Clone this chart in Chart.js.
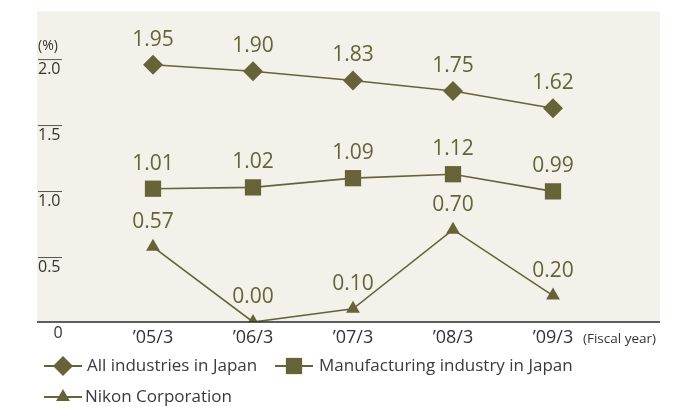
<!DOCTYPE html>
<html>
<head>
<meta charset="utf-8">
<script src="https://cdn.jsdelivr.net/npm/chart.js@4/dist/chart.umd.min.js"></script>
<style>
  body { margin: 0; background: #ffffff; }
  #wrap { width: 683px; height: 407px; }
</style>
</head>
<body>
<div id="wrap"><canvas id="chart" width="683" height="407"></canvas></div>
<script>
// values
const fiscalYears = ["\u201905/3", "\u201906/3", "\u201907/3", "\u201908/3", "\u201909/3"];
const allIndustries = [1.95, 1.90, 1.83, 1.75, 1.62];
const manufacturing = [1.01, 1.02, 1.09, 1.12, 0.99];
const nikon = [0.57, 0.00, 0.10, 0.70, 0.20];
const yTickValues = [0, 0.5, 1.0, 1.5, 2.0];
const seriesNames = ["All industries in Japan", "Manufacturing industry in Japan", "Nikon Corporation"];

const olive = "#676338";
const fontName = "'Open Sans', 'Noto Sans', sans-serif";

function toPoints(values) {
	return values.map(function(v, i) { return { x: i, y: v }; });
}

function makeSet(label, values, style, radius) {
	return {
		label: label,
		data: toPoints(values),
		borderColor: olive,
		backgroundColor: olive,
		borderWidth: 1.6,
		pointStyle: style,
		pointRadius: radius,
		pointHoverRadius: radius,
		pointBorderWidth: 0,
		pointBackgroundColor: olive,
		clip: { left: false, top: false, right: false, bottom: 0 }
	};
}

// panel background + axis line
const panelPlugin = {
	id: "panel",
	beforeDraw: function(chart) {
		const ctx = chart.ctx, a = chart.chartArea;
		ctx.save();
		ctx.fillStyle = "#f4f0ea";
		ctx.fillRect(a.left, a.top, a.right - a.left, a.bottom - a.top);
		ctx.restore();
	},
	afterDatasetsDraw: function(chart) {
		const ctx = chart.ctx, a = chart.chartArea;
		ctx.save();
		ctx.strokeStyle = "#2b2b2b";
		ctx.lineWidth = 1.5;
		ctx.beginPath();
		ctx.moveTo(a.left, a.bottom);
		ctx.lineTo(a.right, a.bottom);
		ctx.stroke();
		ctx.restore();
	}
};

// tick labels drawn by hand so they sit like the original
const tickPlugin = {
	id: "ticksText",
	afterDraw: function(chart) {
		const ctx = chart.ctx, a = chart.chartArea;
		const yScale = chart.scales.y, xScale = chart.scales.x;
		ctx.save();
		ctx.fillStyle = "#333333";
		ctx.textBaseline = "middle";
		ctx.font = "16px " + fontName;
		yTickValues.forEach(function(v) {
			const py = yScale.getPixelForValue(v);
			if (v === 0) {
				ctx.textAlign = "center";
				ctx.fillText("0", a.left + 21, py + 11);
				return;
			}
			ctx.textAlign = "left";
			ctx.fillText(v.toFixed(1), a.left + 1, py + 11);
			ctx.strokeStyle = "#555555";
			ctx.lineWidth = 1;
			ctx.beginPath();
			ctx.moveTo(a.left + 1, py + 1.5);
			ctx.lineTo(a.left + 25, py + 1.5);
			ctx.stroke();
		});
		ctx.textAlign = "left";
		ctx.font = "14px " + fontName;
		ctx.fillText("(%)", a.left + 1, yScale.getPixelForValue(2.0) - 12);

		ctx.textAlign = "center";
		ctx.font = "18px " + fontName;
		fiscalYears.forEach(function(lab, i) {
			ctx.fillText(lab, xScale.getPixelForValue(i), a.bottom + 16);
		});
		ctx.textAlign = "left";
		ctx.font = "13.5px " + fontName;
		ctx.fillText("(Fiscal year)", xScale.getPixelForValue(4) + 30, a.bottom + 17);
		ctx.restore();
	}
};

// value labels above each marker
const valuePlugin = {
	id: "values",
	afterDatasetsDraw: function(chart) {
		const ctx = chart.ctx;
		ctx.save();
		ctx.fillStyle = olive;
		ctx.font = "21px " + fontName;
		ctx.textAlign = "center";
		ctx.textBaseline = "middle";
		chart.data.datasets.forEach(function(ds, di) {
			chart.getDatasetMeta(di).data.forEach(function(pt, i) {
				ctx.fillText(ds.data[i].y.toFixed(2), pt.x, pt.y - 25);
			});
		});
		ctx.restore();
	}
};

// legend: line + marker + name
const legendPlugin = {
	id: "customLegend",
	afterDraw: function(chart) {
		const ctx = chart.ctx;
		const spots = [
			{ x: 44, y: 366, tx: 87 },
			{ x: 275, y: 366, tx: 319 },
			{ x: 44, y: 397, tx: 85 }
		];
		ctx.save();
		chart.data.datasets.forEach(function(ds, di) {
			const s = spots[di];
			ctx.strokeStyle = olive;
			ctx.lineWidth = 2;
			ctx.beginPath();
			ctx.moveTo(s.x, s.y);
			ctx.lineTo(s.x + 38, s.y);
			ctx.stroke();
			ctx.fillStyle = olive;
			Chart.helpers.drawPoint(ctx, {
				pointStyle: ds.pointStyle,
				radius: ds.pointRadius,
				rotation: 0,
				borderWidth: 0
			}, s.x + 19, s.y);
			ctx.fillStyle = "#3a3a3a";
			ctx.font = "17px " + fontName;
			ctx.textAlign = "left";
			ctx.textBaseline = "middle";
			ctx.fillText(ds.label, s.tx, s.y);
		});
		ctx.restore();
	}
};

const ctx = document.getElementById("chart");
const chart = new Chart(ctx, {
	type: "line",
	data: {
		datasets: [
			makeSet(seriesNames[0], allIndustries, "rectRot", 10),
			makeSet(seriesNames[1], manufacturing, "rect", 11.5),
			makeSet(seriesNames[2], nikon, "triangle", 8)
		]
	},
	options: {
		responsive: false,
		animation: false,
		layout: { padding: { left: 37, right: 23, top: 9, bottom: 85 } },
		plugins: { legend: { display: false }, tooltip: { enabled: false } },
		scales: {
			x: { type: "linear", display: false, min: -1.16, max: 5.07 },
			y: { type: "linear", display: false, min: 0, max: 2.353 }
		}
	},
	plugins: [panelPlugin, tickPlugin, valuePlugin, legendPlugin]
});
</script>
</body>
</html>
